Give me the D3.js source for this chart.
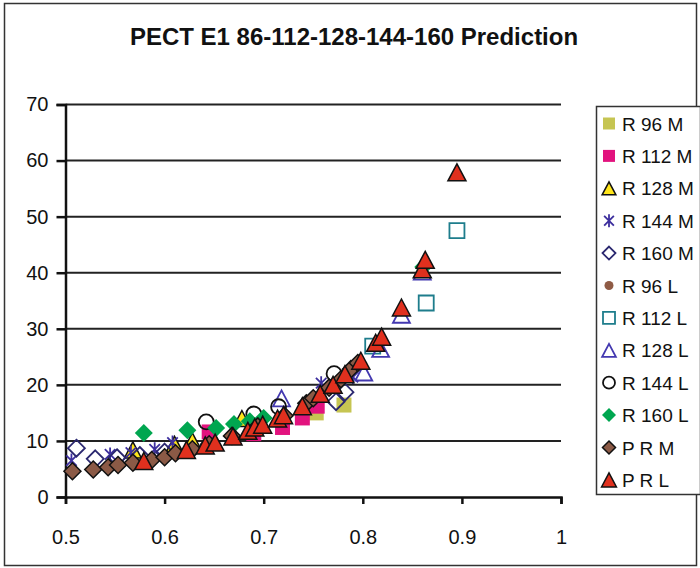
<!DOCTYPE html>
<html>
<head>
<meta charset="utf-8">
<script src="https://cdn.jsdelivr.net/npm/d3@7"></script>
<style>
  body { margin: 0; background: #fff; }
  text { font-family: "Liberation Sans", Arial, sans-serif; fill: #111; }
</style>
</head>
<body>
<div id="chart"></div>
<script>
// chart text and ticks
var titleText = "PECT E1 86-112-128-144-160 Prediction";
var xTicks = [0.5, 0.6, 0.7, 0.8, 0.9, 1];
var yTicks = [0, 10, 20, 30, 40, 50, 60, 70];

// series values [x, y]
var r96M = [[0.753, 15.0], [0.781, 16.4]];
var r112M = [[0.645, 11.6], [0.690, 11.3], [0.719, 12.4], [0.739, 14.1], [0.754, 16.2]];
var r128M = [[0.568, 8.4], [0.610, 9.4], [0.628, 10.0], [0.678, 14.0]];
var r144M = [[0.506, 6.5], [0.545, 7.6], [0.566, 7.9], [0.590, 8.5], [0.608, 9.7], [0.758, 20.3], [0.790, 21.4]];
var r160M = [[0.511, 8.7], [0.530, 6.8], [0.552, 7.0], [0.575, 7.4], [0.600, 8.0], [0.773, 17.0], [0.782, 18.7]];
var r96L = [[0.668, 11.1], [0.750, 17.6]];
var r112L = [[0.810, 26.9], [0.864, 34.6], [0.895, 47.5]];
var r128L = [[0.718, 17.6], [0.801, 22.2], [0.818, 26.4], [0.839, 32.5], [0.860, 40.2]];
var r144L = [[0.642, 13.4], [0.690, 14.8], [0.715, 16.1], [0.771, 22.0]];
var r160L = [[0.579, 11.4], [0.623, 11.9], [0.652, 12.3], [0.670, 13.0], [0.686, 13.5], [0.700, 14.1], [0.861, 41.0]];
var prM = [[0.507, 4.6], [0.528, 4.9], [0.543, 5.3], [0.553, 5.7], [0.568, 6.1], [0.587, 6.6], [0.600, 7.1],
           [0.611, 7.8], [0.628, 8.5], [0.645, 9.4], [0.668, 10.9], [0.694, 12.6], [0.721, 14.5], [0.743, 16.7],
           [0.750, 17.6], [0.766, 19.5], [0.778, 21.0], [0.788, 22.8], [0.795, 23.9]];
var prL = [[0.579, 6.4], [0.622, 8.4], [0.641, 9.2], [0.651, 9.7], [0.669, 10.8], [0.684, 11.8], [0.691, 12.4],
           [0.699, 12.9], [0.714, 14.0], [0.720, 14.6], [0.739, 16.2], [0.757, 18.4], [0.770, 20.0], [0.782, 21.9],
           [0.798, 24.3], [0.813, 27.5], [0.819, 28.6], [0.839, 33.8], [0.860, 40.6], [0.863, 42.3], [0.895, 57.9]];

// how each series is drawn (drawn in this order, last on top)
var series = [
  { name: "R 96 M",  data: r96M,  shape: "square",   fill: "#c6c552", stroke: "none",    size: 15, lsize: 12 },
  { name: "R 112 M", data: r112M, shape: "square",   fill: "#e2137e", stroke: "none",    size: 15, lsize: 12 },
  { name: "R 128 M", data: r128M, shape: "triangle", fill: "#ffe51a", stroke: "#111",    size: 16, lsize: 13 },
  { name: "R 144 M", data: r144M, shape: "star",     fill: "none",    stroke: "#3d2f9e", size: 14, lsize: 13 },
  { name: "R 160 M", data: r160M, shape: "diamond",  fill: "none",    stroke: "#2b2870", size: 17, lsize: 13 },
  { name: "R 96 L",  data: r96L,  shape: "circle",   fill: "#8f5b45", stroke: "none",    size: 8,  lsize: 9 },
  { name: "R 112 L", data: r112L, shape: "square",   fill: "none",    stroke: "#1e7d8c", size: 15, lsize: 12 },
  { name: "R 128 L", data: r128L, shape: "triangle", fill: "none",    stroke: "#4338b0", size: 16, lsize: 13 },
  { name: "R 144 L", data: r144L, shape: "circle",   fill: "none",    stroke: "#111",    size: 15, lsize: 12 },
  { name: "R 160 L", data: r160L, shape: "diamond",  fill: "#00a650", stroke: "none",    size: 18, lsize: 14 },
  { name: "P R M",   data: prM,   shape: "diamond",  fill: "#8b5a46", stroke: "#111",    size: 17, lsize: 13 },
  { name: "P R L",   data: prL,   shape: "triangle", fill: "#e0301e", stroke: "#111",    size: 17, lsize: 14 }
];

var width = 700, height = 568;

var svg = d3.select("#chart").append("svg")
    .attr("width", width)
    .attr("height", height);

// outer chart border
svg.append("rect")
    .attr("x", 4.5).attr("y", 3.5)
    .attr("width", 692).attr("height", 562)
    .attr("fill", "none").attr("stroke", "#333").attr("stroke-width", 1.5);

svg.append("text")
    .attr("x", 354).attr("y", 45)
    .attr("text-anchor", "middle")
    .style("font-size", "24px").style("font-weight", "bold")
    .text(titleText);

var x = d3.scaleLinear().domain([0.5, 1]).range([65.5, 561]);
var y = d3.scaleLinear().domain([0, 70]).range([497, 104.5]);

// marker path generator, s = full size in px
function markerPath(shape, s) {
  var r = s / 2;
  if (shape == "square") return "M" + (-r) + "," + (-r) + "h" + s + "v" + s + "h" + (-s) + "Z";
  if (shape == "diamond") return "M0," + (-r) + "L" + r + ",0L0," + r + "L" + (-r) + ",0Z";
  if (shape == "triangle") return "M0," + (-r) + "L" + (r * 1.06) + "," + r + "L" + (-r * 1.06) + "," + r + "Z";
  if (shape == "star") {
    var a = r * 0.75;
    return "M0," + (-r) + "V" + r +
           "M" + (-a) + "," + (-a) + "L" + a + "," + a +
           "M" + (-a) + "," + a + "L" + a + "," + (-a);
  }
  // circle
  return "M" + r + ",0A" + r + "," + r + " 0 1,1 " + (-r) + ",0A" + r + "," + r + " 0 1,1 " + r + ",0Z";
}

// gridlines
svg.append("g")
  .selectAll("line")
  .data(yTicks.filter(function(d) { return d > 0; }))
  .enter().append("line")
    .attr("x1", x(0.5)).attr("x2", x(1))
    .attr("y1", function(d) { return y(d); })
    .attr("y2", function(d) { return y(d); })
    .attr("stroke", "#222").attr("stroke-width", 2);

// y axis
var gy = svg.append("g")
    .attr("transform", "translate(" + x(0.5) + ",0)")
    .call(d3.axisLeft(y).tickValues(yTicks).tickSize(9).tickPadding(8));
// x axis
var gx = svg.append("g")
    .attr("transform", "translate(0," + y(0) + ")")
    .call(d3.axisBottom(x).tickValues(xTicks).tickSize(7).tickPadding(26)
          .tickFormat(function(d) { return String(d); }));

[gx, gy].forEach(function(g) {
  g.selectAll(".domain").attr("stroke", "#111").attr("stroke-width", 2.5);
  g.selectAll(".tick line").attr("stroke", "#111").attr("stroke-width", 2.5);
  g.selectAll(".tick text").style("font-size", "20px").attr("fill", "#111")
    .style("font-family", "'Liberation Sans', Arial, sans-serif");
});

// points
series.forEach(function(s) {
  svg.append("g")
    .selectAll("path")
    .data(s.data)
    .enter().append("path")
      .attr("transform", function(d) { return "translate(" + x(d[0]) + "," + y(d[1]) + ")"; })
      .attr("d", markerPath(s.shape, s.size))
      .attr("fill", s.fill)
      .attr("stroke", s.stroke)
      .attr("stroke-width", s.fill == "none" ? 1.8 : 1.5);
});

// legend
var legend = svg.append("g");
legend.append("rect")
    .attr("x", 596.5).attr("y", 106.5)
    .attr("width", 104).attr("height", 388)
    .attr("fill", "#fff").attr("stroke", "#333").attr("stroke-width", 1.5);

var item = legend.selectAll(".item")
    .data(series)
    .enter().append("g")
    .attr("class", "item")
    .attr("transform", function(d, i) { return "translate(609," + (123.5 + i * 32.4) + ")"; });

item.append("path")
    .attr("d", function(d) { return markerPath(d.shape, d.lsize); })
    .attr("fill", function(d) { return d.fill; })
    .attr("stroke", function(d) { return d.stroke; })
    .attr("stroke-width", function(d) { return d.fill == "none" ? 1.8 : 1.5; });

item.append("text")
    .attr("x", 13).attr("y", 7)
    .style("font-size", "19px")
    .text(function(d) { return d.name; });
</script>
</body>
</html>
